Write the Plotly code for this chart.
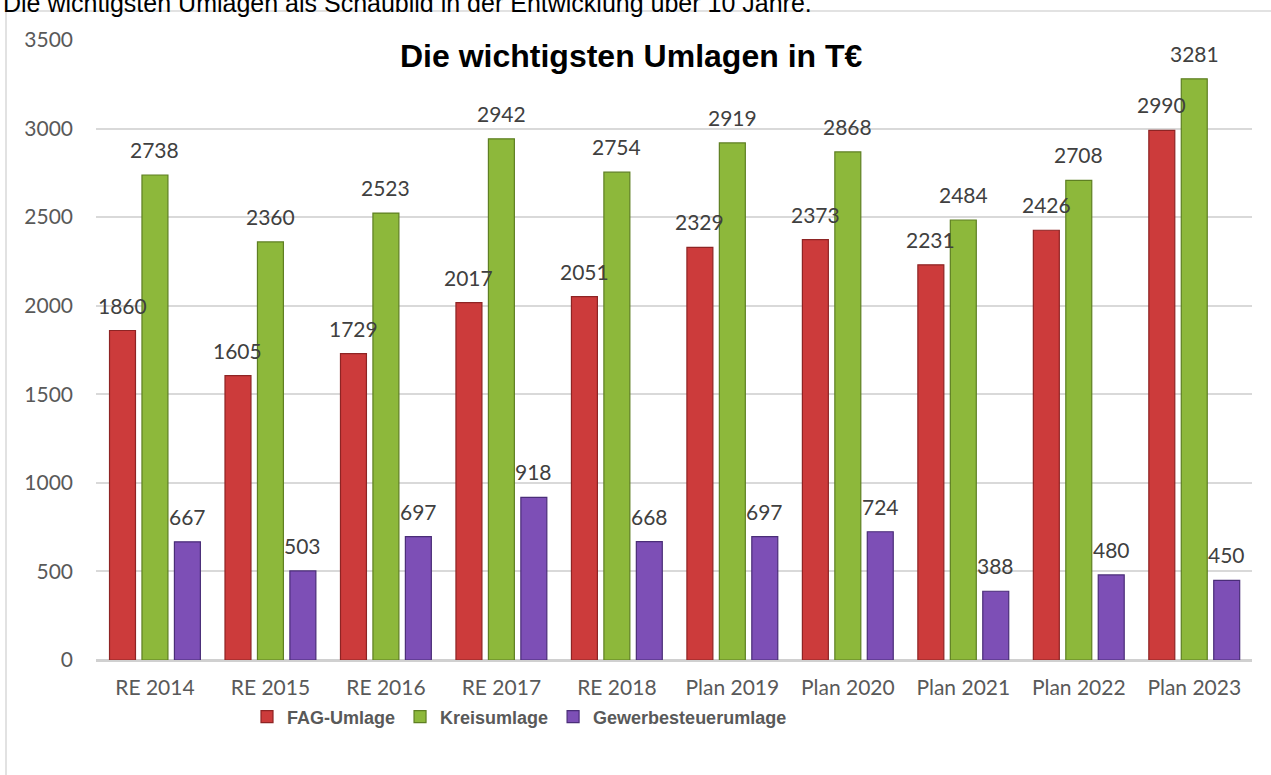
import plotly.graph_objects as go

categories = ["RE 2014", "RE 2015", "RE 2016", "RE 2017", "RE 2018",
              "Plan 2019", "Plan 2020", "Plan 2021", "Plan 2022", "Plan 2023"]
fag_umlage = [1860, 1605, 1729, 2017, 2051, 2329, 2373, 2231, 2426, 2990]
kreisumlage = [2738, 2360, 2523, 2942, 2754, 2919, 2868, 2484, 2708, 3281]
gewerbesteuerumlage = [667, 503, 697, 918, 668, 697, 724, 388, 480, 450]

series_names = ["FAG-Umlage", "Kreisumlage", "Gewerbesteuerumlage"]
series_values = [fag_umlage, kreisumlage, gewerbesteuerumlage]
fill_colors = ["#CC3B3B", "#8DB83B", "#7D4FB6"]
edge_colors = ["#8E2424", "#5E7F22", "#4A2D78"]

W, H = 1271, 775
ML, MR, MT, MB = 96, 19, 40, 115
PW, PH = W - ML - MR, H - MT - MB
BARGAP = 0.157
BARGROUPGAP = 0.2

def px_to_paper_x(p):
    return (p - ML) / PW

def px_to_paper_y(p):
    return (H - MB - p) / PH

fig = go.Figure()
for name, vals, fc, ec in zip(series_names, series_values, fill_colors, edge_colors):
    fig.add_trace(go.Bar(
        x=categories, y=vals, name=name,
        marker=dict(color=fc, line=dict(color=ec, width=1.2)),
        hoverinfo="x+y+name",
    ))

# data labels above each bar
annotations = []
slot = (1 - BARGAP) / len(series_values)
for k, vals in enumerate(series_values):
    offset = (k - (len(series_values) - 1) / 2) * slot
    for i, v in enumerate(vals):
        annotations.append(dict(
            x=i + offset, y=v, xref="x", yref="y", text=str(v),
            showarrow=False, yanchor="bottom", xanchor="center", yshift=11,
            font=dict(family="Lato, Open Sans, sans-serif", size=21, color="#404040"),
        ))

# chart title
annotations.append(dict(
    x=px_to_paper_x(631), y=px_to_paper_y(56), xref="paper", yref="paper",
    text="<b>Die wichtigsten Umlagen in T€</b>", showarrow=False,
    xanchor="center", yanchor="middle",
    font=dict(family="Liberation Sans, Arial, sans-serif", size=32, color="#000000"),
))
# cropped document text at very top
annotations.append(dict(
    x=px_to_paper_x(1), y=px_to_paper_y(19), xref="paper", yref="paper",
    text="Die wichtigsten Umlagen als Schaubild in der Entwicklung über 10 Jahre.",
    showarrow=False, xanchor="left", yanchor="bottom",
    font=dict(family="Liberation Sans, Arial, sans-serif", size=25, color="#000000"),
))

fig.update_layout(
    width=W, height=H,
    margin=dict(l=ML, r=MR, t=MT, b=MB, autoexpand=False),
    paper_bgcolor="white", plot_bgcolor="white",
    barmode="group", bargap=BARGAP, bargroupgap=BARGROUPGAP,
    showlegend=True,
    legend=dict(
        orientation="h", x=px_to_paper_x(247), y=px_to_paper_y(717),
        xanchor="left", yanchor="middle",
        font=dict(family="Liberation Sans, Arial, sans-serif", size=18,
                  color="#595959", weight="bold"),
        itemwidth=30, tracegroupgap=0,
    ),
    annotations=annotations,
    shapes=[dict(
        type="rect", xref="paper", yref="paper",
        x0=px_to_paper_x(6), x1=px_to_paper_x(1290),
        y0=px_to_paper_y(800), y1=px_to_paper_y(11),
        line=dict(color="#D9D9D9", width=1.5), fillcolor="rgba(0,0,0,0)", layer="below",
    )],
    xaxis=dict(
        type="category", showgrid=False, showline=False, ticks="",
        tickfont=dict(family="Lato, Open Sans, sans-serif", size=21, color="#595959"),
        ticklabelstandoff=13,
    ),
    yaxis=dict(
        range=[0, 3500], dtick=500, showgrid=True, gridcolor="#D9D9D9", gridwidth=1.5,
        zeroline=True, zerolinecolor="#D0D0D0", zerolinewidth=3,
        showline=False, ticks="",
        tickfont=dict(family="Lato, Open Sans, sans-serif", size=21, color="#595959"),
        ticklabelstandoff=22,
    ),
)

fig.write_html(
    "out.html",
    config={"displayModeBar": False},
    post_script="document.body.style.margin='0';document.body.style.overflow='hidden';",
)
